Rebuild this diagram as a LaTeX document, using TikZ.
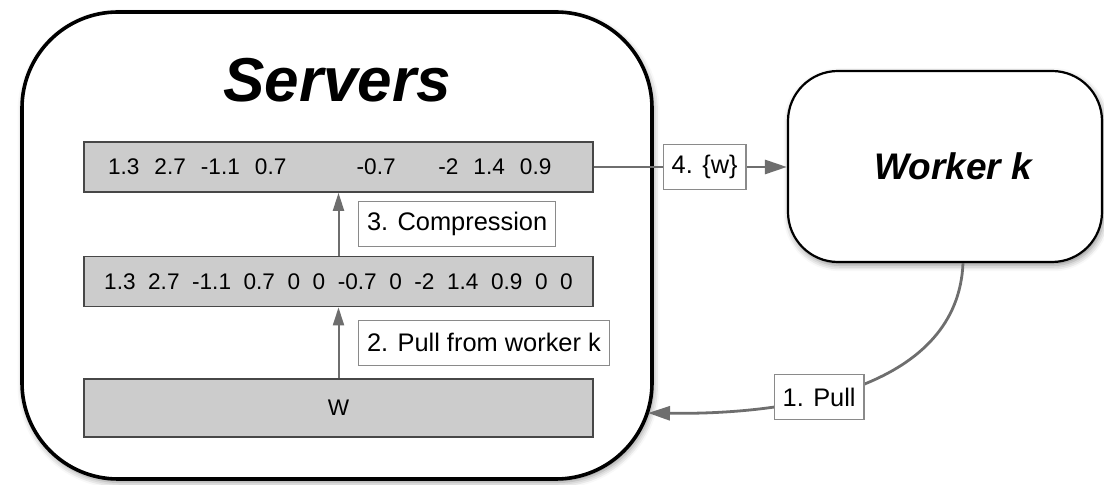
\documentclass[tikz,border=0pt]{standalone}
\usepackage{fontspec}
\setmainfont{Liberation Sans}
\usetikzlibrary{arrows.meta, positioning, calc, shadows.blur}
\definecolor{BarFill}{HTML}{CCCCCC}
\definecolor{BarInk}{HTML}{474747}
\definecolor{FlowInk}{HTML}{6E6E6E}
\definecolor{TagInk}{HTML}{8A8A8A}
% entry removed by compression: keeps its slot, prints nothing
\newcommand{\dropped}{\phantom{0}}

\begin{document}
\begin{tikzpicture}[x=0.5pt, y=-0.5pt,
  vecbar/.style={draw=BarInk, fill=BarFill, line width=0.8pt, inner sep=0pt,
    minimum width=254.5pt, minimum height=25pt, font=\fontsize{11.3}{13}\selectfont},
  tag/.style={draw=TagInk, fill=white, text=black, line width=0.6pt, inner xsep=4.2pt,
    minimum height=22.5pt, font=\fontsize{12.7}{15}\selectfont},
  flow/.style={-{Triangle[length=9pt, width=5.5pt]}, FlowInk, line width=1pt},
  bigflow/.style={-{Triangle[length=11pt, width=7pt]}, FlowInk, line width=1.4pt},
  hub/.style={draw=black, fill=white,
    blur shadow={shadow xshift=0.8pt, shadow yshift=-1.6pt,
                 shadow blur radius=3pt, shadow opacity=45}}]
\useasboundingbox (0,0) rectangle (1104,485);

% parameter server
\node[hub, line width=1.8pt, rounded corners=48pt,
      minimum width=315pt, minimum height=233.5pt] (servers) at (337,245.5) {};
\node[font=\fontsize{31}{36}\selectfont\bfseries\itshape]
  (title) at ([yshift=-35pt]servers.north) {Servers};

% vectors kept on the server
\node[vecbar, text width=230.5pt, inner xsep=12pt, align=left] (sparse) at (338.5,167)
  {1.3~~2.7~~-1.1~~0.7~~\dropped~~\dropped~~-0.7~~\dropped~~-2~~1.4~~0.9};
\node[vecbar, below=31.5pt of sparse] (dense)
  {1.3~~2.7~~-1.1~~0.7~~0~~0~~-0.7~~0~~-2~~1.4~~0.9~~0~~0};
\node[vecbar, minimum height=29pt, below=35.5pt of dense] (model) {W};

\draw[flow] (model) -- (dense);
\draw[flow] (dense) -- (sparse);
\node[tag, anchor=west, xshift=9.75pt] (compress)
  at ($(sparse.south)!0.5!(dense.north)$) {3. Compression};
\node[tag, anchor=west, xshift=9.75pt] (pullstep)
  at ($(dense.south)!0.5!(model.north)$) {2. Pull from worker k};

% worker
\node[hub, line width=1.1pt, rounded corners=25pt,
      minimum width=157pt, minimum height=95.5pt,
      font=\fontsize{18.5}{22}\selectfont\bfseries\itshape] (worker) at (945,166.5)
  {\hspace*{8pt}Worker k};

% messages between the two
\draw[bigflow] (sparse.east) -- (sparse.east -| worker.west)
  node[tag, pos=0.574] (send) {4. \{w\}};
\coordinate (pullin) at (648,413);
\draw[bigflow] ([xshift=9pt]worker.south) .. controls (958,385) and (800,415) .. (pullin)
  node[tag, pos=0.61] (pull) {1. Pull};
\end{tikzpicture}
\end{document}
